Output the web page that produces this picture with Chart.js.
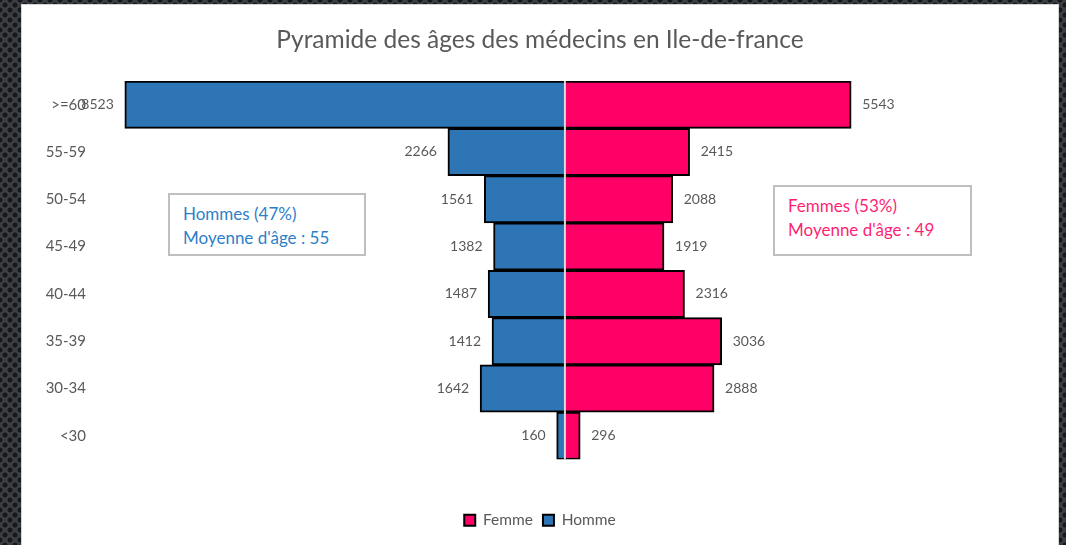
<!DOCTYPE html>
<html>
<head>
<meta charset="utf-8">
<script src="https://cdn.jsdelivr.net/npm/chart.js@4.4.1/dist/chart.umd.min.js"></script>
<style>
  html, body { margin: 0; padding: 0; }
  body {
    width: 1066px; height: 545px; overflow: hidden; position: relative;
    background-color: #3b3e43;
    background-image:
      radial-gradient(circle, #17181b 2.2px, transparent 2.8px),
      radial-gradient(circle, #17181b 2.2px, transparent 2.8px);
    background-size: 10px 10px, 10px 10px;
    background-position: 0 0, 5px 5px;
  }
  #panel {
    position: absolute; left: 22px; top: 5px; width: 1036px; height: 540px;
    background: #ffffff; outline: 1px solid #d4d4d4;
  }
  #panel canvas { position: absolute; left: 0; top: 0; }
  .note {
    position: absolute; box-sizing: border-box; background: #fff;
    border: 2px solid #bfbfbf; font-family: Lato, "Open Sans", sans-serif;
    font-size: 17px; line-height: 24px; padding: 7px 0 0 13px;
  }
</style>
</head>
<body>
<div id="panel">
  <canvas id="c" width="1036" height="540"></canvas>
  <div class="note" style="left:146px; top:188px; width:198px; height:63px; color:#2d7fc9;">Hommes (47%)<br>Moyenne d'âge : 55</div>
  <div class="note" style="left:751px; top:180px; width:199px; height:71px; color:#ff1f72; padding-top:7px;">Femmes (53%)<br>Moyenne d'âge : 49</div>
</div>
<script>
const categories = [">=60", "55-59", "50-54", "45-49", "40-44", "35-39", "30-34", "<30"];
const hommes = [8523, 2266, 1561, 1382, 1487, 1412, 1642, 160];
const femmes = [5543, 2415, 2088, 1919, 2316, 3036, 2888, 296];
const titleText = "Pyramide des âges des médecins en Ile-de-france";
const axisMin = -9100;
const axisMax = 9200;

const FONT = "Lato, 'Open Sans', sans-serif";
const GREY = "#595959";

const barLabels = {
  id: "barLabels",
  afterDatasetsDraw(chart) {
    const ctx = chart.ctx;
    ctx.save();
    ctx.font = "14px " + FONT;
    ctx.fillStyle = GREY;
    ctx.textBaseline = "middle";
    chart.data.datasets.forEach((ds, di) => {
      const meta = chart.getDatasetMeta(di);
      meta.data.forEach((el, i) => {
        const v = Math.abs(ds.data[i]);
        if (ds.data[i] < 0) {
          ctx.textAlign = "right";
          ctx.fillText(String(v), el.x - 11, el.y);
        } else {
          ctx.textAlign = "left";
          ctx.fillText(String(v), el.x + 11, el.y);
        }
      });
    });
    const x0 = chart.scales.x.getPixelForValue(0);
    ctx.strokeStyle = "#d9d9d9";
    ctx.lineWidth = 2;
    ctx.beginPath();
    ctx.moveTo(x0, chart.chartArea.top);
    ctx.lineTo(x0, chart.chartArea.bottom);
    ctx.stroke();
    ctx.restore();
  }
};

new Chart(document.getElementById("c"), {
  type: "bar",
  data: {
    labels: categories,
    datasets: [
      {
        label: "Femme",
        data: femmes,
        backgroundColor: "#ff0066",
        borderColor: "#000000",
        borderWidth: 2,
        borderSkipped: "start"
      },
      {
        label: "Homme",
        data: hommes.map(v => -v),
        backgroundColor: "#2e75b6",
        borderColor: "#000000",
        borderWidth: 2,
        borderSkipped: "start"
      }
    ]
  },
  options: {
    indexAxis: "y",
    responsive: false,
    animation: false,
    barPercentage: 1,
    categoryPercentage: 1,
    layout: { padding: { left: 18, right: 18, top: 0, bottom: 7 } },
    scales: {
      x: {
        stacked: true,
        min: axisMin,
        max: axisMax,
        grid: { display: false },
        border: { display: false },
        ticks: { display: false },
        afterFit(scale) { scale.height = 43; }
      },
      y: {
        stacked: true,
        grid: { display: false },
        border: { display: false },
        ticks: { color: GREY, font: { family: FONT, size: 15 }, padding: 1 },
        afterFit(scale) { scale.width = 55; }
      }
    },
    plugins: {
      title: {
        display: true,
        text: titleText,
        color: GREY,
        font: { family: FONT, size: 24.5, weight: "normal" },
        padding: { top: 20, bottom: 26.6 }
      },
      legend: {
        position: "bottom",
        labels: {
          color: GREY,
          font: { family: FONT, size: 15.5 },
          boxWidth: 11,
          boxHeight: 11,
          padding: 10
        }
      },
      tooltip: { enabled: false }
    }
  },
  plugins: [barLabels]
});
</script>
</body>
</html>
